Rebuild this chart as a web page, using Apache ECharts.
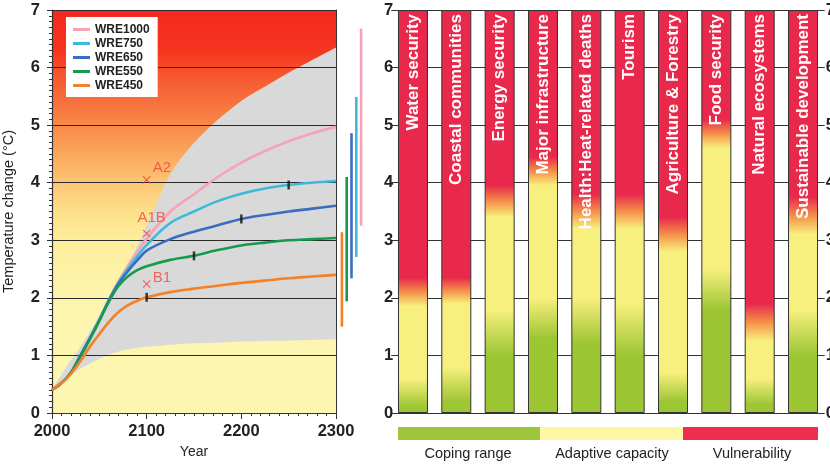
<!DOCTYPE html>
<html><head><meta charset="utf-8">
<script src="https://cdn.jsdelivr.net/npm/echarts@6/dist/echarts.min.js"></script>
<style>html,body{margin:0;padding:0;background:#fff}#c{width:830px;height:465px}</style>
</head><body><div id="c"></div><script>
// ---------- Left panel data ----------
const years   = [2000,2010,2020,2030,2040,2050,2060,2070,2080,2090,2100,2125,2150,2175,2200,2225,2250,2275,2300];
const wre1000 = [0.4,0.52,0.7,1.0,1.3,1.62,1.97,2.28,2.55,2.8,3.03,3.5,3.8,4.1,4.35,4.55,4.72,4.86,4.97];
const wre750  = [0.4,0.52,0.7,1.0,1.3,1.62,1.96,2.26,2.5,2.72,2.92,3.3,3.5,3.68,3.81,3.9,3.96,4.0,4.03];
const wre650  = [0.4,0.52,0.7,1.0,1.3,1.61,1.95,2.24,2.46,2.65,2.82,3.02,3.15,3.26,3.37,3.44,3.5,3.55,3.6];
const wre550  = [0.4,0.52,0.7,0.98,1.28,1.6,1.93,2.2,2.37,2.48,2.55,2.66,2.73,2.83,2.91,2.96,3.0,3.02,3.04];
const wre450  = [0.4,0.52,0.68,0.9,1.15,1.37,1.58,1.75,1.87,1.95,2.01,2.1,2.16,2.21,2.26,2.3,2.34,2.37,2.4];
const envUpperYears = [2000,2015,2030,2045,2061,2075,2085,2093,2100,2110,2120,2130,2145,2170,2200,2230,2260,2300];
const envUpper      = [0.4,0.8,1.15,1.55,2.0,2.42,2.74,3.0,3.25,3.62,4.0,4.28,4.6,5.02,5.42,5.72,6.0,6.35];
const envLowerYears = [2000,2015,2030,2050,2067,2085,2100,2115,2130,2150,2175,2200,2225,2250,2275,2300];
const envLower      = [0.4,0.6,0.77,0.94,1.05,1.12,1.15,1.17,1.19,1.21,1.22,1.24,1.25,1.26,1.27,1.28];
const stabYears = [2100,2150,2200,2250];          // WRE450, WRE550, WRE650, WRE750
const scenarios = ['A2','A1B','B1'];
const scenYears = [2100,2100,2100];
const scenTemps = [4.05,3.12,2.24];
const rangeNames = ['WRE450','WRE550','WRE650','WRE750','WRE1000'];
const rangeLow  = [1.5,1.94,2.34,2.71,3.25];
const rangeHigh = [3.14,4.1,4.86,5.49,6.68];
const yearRange = [2000,2300];
const tempRange = [0,7];
// ---------- Right panel data ----------
const categories = ['Water security','Coastal communities','Energy security','Major infrastructure','Health:Heat-related deaths','Tourism','Agriculture & Forestry','Food security','Natural ecosystems','Sustainable development'];
const barTop         = [7,7,7,7,7,7,7,7,7,7];
const copingTop      = [0.1,0.2,1.0,1.3,1.2,1.0,0.2,1.8,0.15,1.0];
const adaptiveFrom   = [0.6,0.8,1.8,2.0,2.0,1.9,0.7,2.5,0.6,1.8];
const adaptiveTop    = [1.85,1.9,3.4,3.95,3.2,3.2,2.8,4.6,1.25,3.1];
const vulnerableFrom = [2.35,2.35,3.95,4.45,3.8,3.8,3.4,5.1,1.9,3.75];
const legendLabels = ['Coping range','Adaptive capacity','Vulnerability'];

const FONT = 'Liberation Sans, Arial, Helvetica, sans-serif';
const C = {wre1000:'#f6a3b6', wre750:'#3fb8da', wre650:'#3a6cc2', wre550:'#179a4b', wre450:'#f58025'};
const RED='#e8294c', ORANGE='#f59049', YELLOW='#f8f07e', GREEN='#9dc634';

const chart = echarts.init(document.getElementById('c'), null, {renderer:'canvas'});
const pair = (xs, ys) => xs.map((x,i)=>[x, ys[i]]);
const lineSets = [['WRE1000',wre1000,C.wre1000],['WRE750',wre750,C.wre750],['WRE650',wre650,C.wre650],['WRE550',wre550,C.wre550],['WRE450',wre450,C.wre450]];
const stabSeries = [wre450, wre550, wre650, wre750];
const stabData = stabYears.map((y,i)=>[y, stabSeries[i][years.indexOf(y)]]);

function barGrad(i){
  const t = barTop[i];
  const o = v => Math.min(1, Math.max(0, 1 - v/t));
  return new echarts.graphic.LinearGradient(0,0,0,1,[
    {offset:0, color:RED},
    {offset:o(vulnerableFrom[i]), color:RED},
    {offset:o((adaptiveTop[i]+vulnerableFrom[i])/2), color:ORANGE},
    {offset:o(adaptiveTop[i]), color:YELLOW},
    {offset:o(adaptiveFrom[i]), color:YELLOW},
    {offset:o(copingTop[i]), color:GREEN},
    {offset:1, color:GREEN}
  ]);
}

const bgGrad = new echarts.graphic.LinearGradient(0,0,0,1,[
  {offset:0, color:'#f4291f'},
  {offset:0.1, color:'#f5351f'},
  {offset:0.17, color:'#f65a30'},
  {offset:0.286, color:'#f98848'},
  {offset:0.357, color:'#fba75c'},
  {offset:0.43, color:'#fcc675'},
  {offset:0.5, color:'#fde08a'},
  {offset:0.57, color:'#fdee9b'},
  {offset:0.71, color:'#fdf5ac'},
  {offset:1, color:'#fdf7b3'}
], false);

const axisTxt = {fontSize:16.5, fontWeight:'bold', color:'#222', fontFamily:FONT};

const option = {
  animation:false,
  textStyle:{fontFamily:FONT},
  grid:[
    {left:52, top:10, width:284, height:403, outerBoundsMode:'none', containLabel:false},
    {left:339.5, top:10, width:24, height:403, outerBoundsMode:'none', containLabel:false},
    {left:391.3, top:10, width:433.4, height:403, outerBoundsMode:'none', containLabel:false}
  ],
  legend:{
    data:['WRE1000','WRE750','WRE650','WRE550','WRE450'],
    left:66, top:17, orient:'vertical', icon:'rect', itemWidth:17, itemHeight:3, itemGap:1,
    padding:[6,8,5,7], backgroundColor:'#fff', z:6,
    textStyle:{fontSize:12, fontWeight:'bold', color:'#222', lineHeight:13, fontFamily:FONT}
  },
  xAxis:[
    {gridIndex:0, type:'value', min:yearRange[0], max:yearRange[1], interval:100,
     axisLine:{lineStyle:{color:'#333', width:1.2}}, axisTick:{length:6, lineStyle:{color:'#333'}},
     minorTick:{show:true, splitNumber:10, length:3, lineStyle:{color:'#333'}},
     splitLine:{show:false}, axisLabel:Object.assign({margin:10, formatter:v=>String(v)}, axisTxt),
     name:'Year', nameLocation:'middle', nameGap:32, nameTextStyle:{fontSize:14, color:'#222', fontFamily:FONT}, z:2},
    {gridIndex:0, type:'value', min:yearRange[0], max:yearRange[1], position:'top', axisLine:{lineStyle:{color:'#333'}},
     axisTick:{show:false}, axisLabel:{show:false}, splitLine:{show:false}, z:2},
    {gridIndex:1, type:'category', data:rangeNames, show:false},
    {gridIndex:2, type:'category', data:categories, show:false}
  ],
  yAxis:[
    {gridIndex:0, type:'value', min:tempRange[0], max:tempRange[1], interval:1,
     axisLine:{show:true, lineStyle:{color:'#333', width:1.2}}, axisTick:{show:true, length:5, lineStyle:{color:'#333'}},
     minorTick:{show:true, splitNumber:10, length:3, lineStyle:{color:'#333'}},
     splitLine:{show:true, lineStyle:{color:'#2a2a2a', width:1.2}},
     axisLabel:Object.assign({margin:12}, axisTxt),
     name:'Temperature change (°C)', nameLocation:'middle', nameGap:36, nameRotate:90,
     nameTextStyle:{fontSize:14.5, color:'#222', fontFamily:FONT}, z:2},
    {gridIndex:0, type:'value', min:tempRange[0], max:tempRange[1], position:'right', axisLine:{show:true, lineStyle:{color:'#333'}},
     axisTick:{show:false}, axisLabel:{show:false}, splitLine:{show:false}, z:2},
    {gridIndex:1, type:'value', min:tempRange[0], max:tempRange[1], show:false},
    {gridIndex:2, type:'value', min:tempRange[0], max:tempRange[1], interval:1, position:'left', offset:-4,
     axisLine:{show:false}, axisTick:{show:false},
     splitLine:{show:true, lineStyle:{color:'#333', width:1.2}},
     axisLabel:Object.assign({margin:2}, axisTxt), z:0},
    {gridIndex:2, type:'value', min:tempRange[0], max:tempRange[1], interval:1, position:'right',
     axisLine:{show:false}, axisTick:{show:false}, splitLine:{show:false},
     axisLabel:Object.assign({margin:1}, axisTxt)}
  ],
  series:[
    {type:'line', name:'bg', xAxisIndex:0, yAxisIndex:0, data:[[yearRange[0],tempRange[1]],[yearRange[1],tempRange[1]]],
     showSymbol:false, lineStyle:{width:0}, areaStyle:{color:bgGrad, opacity:1, origin:'start'}, z:0, silent:true},
    {type:'line', name:'envUpper', xAxisIndex:0, yAxisIndex:0, data:pair(envUpperYears, envUpper),
     smooth:0.3, showSymbol:false, lineStyle:{width:0}, areaStyle:{color:'#d9d9d9', opacity:1, origin:'start'}, z:1, silent:true},
    {type:'line', name:'envLower', xAxisIndex:0, yAxisIndex:0, data:pair(envLowerYears, envLower),
     smooth:0.3, showSymbol:false, lineStyle:{width:0}, areaStyle:{color:'#fdf6b0', opacity:1, origin:'start'}, z:1, silent:true},
    ...lineSets.map(([n,d,c])=>({type:'line', name:n, xAxisIndex:0, yAxisIndex:0, data:pair(years,d),
      smooth:0.35, showSymbol:false, color:c, lineStyle:{color:c, width:2.6}, z:3})),
    {type:'scatter', name:'stab', xAxisIndex:0, yAxisIndex:0, data:stabData, symbol:'rect', symbolSize:[2.5,9],
     itemStyle:{color:'#111'}, z:4, silent:true},
    {type:'scatter', name:'scen', xAxisIndex:0, yAxisIndex:0, z:4, silent:true,
     symbol:'path://M0,1L1,0L5,4L9,0L10,1L6,5L10,9L9,10L5,6L1,10L0,9L4,5Z', symbolSize:8,
     itemStyle:{color:'#ef4640'},
     data:scenarios.map((s,i)=>({value:[scenYears[i], scenTemps[i]], name:s,
       label:{show:true, formatter:s, color:'#ef4640', fontSize:15, fontFamily:FONT,
         position: s==='A1B' ? 'top' : 'right', distance: s==='A1B'?4:2,
         offset: s==='A2' ? [0,-12] : (s==='B1' ? [0,-6] : [5,0])}}))},
    {type:'bar', name:'rangeBase', xAxisIndex:2, yAxisIndex:2, stack:'r', data:rangeLow, barWidth:2.6,
     itemStyle:{color:'rgba(0,0,0,0)'}, silent:true},
    {type:'bar', name:'range', xAxisIndex:2, yAxisIndex:2, stack:'r', barWidth:2.6, silent:true,
     data:rangeHigh.map((h,i)=>({value:h-rangeLow[i], itemStyle:{color:[C.wre450,C.wre550,C.wre650,C.wre750,C.wre1000][i]}}))},
    {type:'bar', name:'risk', xAxisIndex:3, yAxisIndex:3, barWidth:30, z:2,
     data:barTop.map((v,i)=>({value:v, itemStyle:{color:barGrad(i), borderColor:'#333', borderWidth:1}})),
     label:{show:true, position:'insideTop', rotate:90, align:'right', verticalAlign:'middle', distance:4,
       formatter:p=>categories[p.dataIndex], color:'#fff', fontWeight:'bold', fontSize:17, fontFamily:FONT}}
  ],
  graphic:[
    {type:'rect', shape:{x:398, y:427, width:142, height:13}, style:{fill:'#9dc63a'}},
    {type:'rect', shape:{x:540, y:427, width:143, height:13}, style:{fill:'#fdf7a6'}},
    {type:'rect', shape:{x:683, y:427, width:135, height:13}, style:{fill:'#ee2d4f'}},
    {type:'text', x:468, y:454, style:{text:legendLabels[0], fill:'#222', font:'14.5px '+FONT, align:'center', verticalAlign:'middle'}},
    {type:'text', x:612, y:454, style:{text:legendLabels[1], fill:'#222', font:'14.5px '+FONT, align:'center', verticalAlign:'middle'}},
    {type:'text', x:752, y:454, style:{text:legendLabels[2], fill:'#222', font:'14.5px '+FONT, align:'center', verticalAlign:'middle'}}
  ]
};
chart.setOption(option);
</script></body></html>
